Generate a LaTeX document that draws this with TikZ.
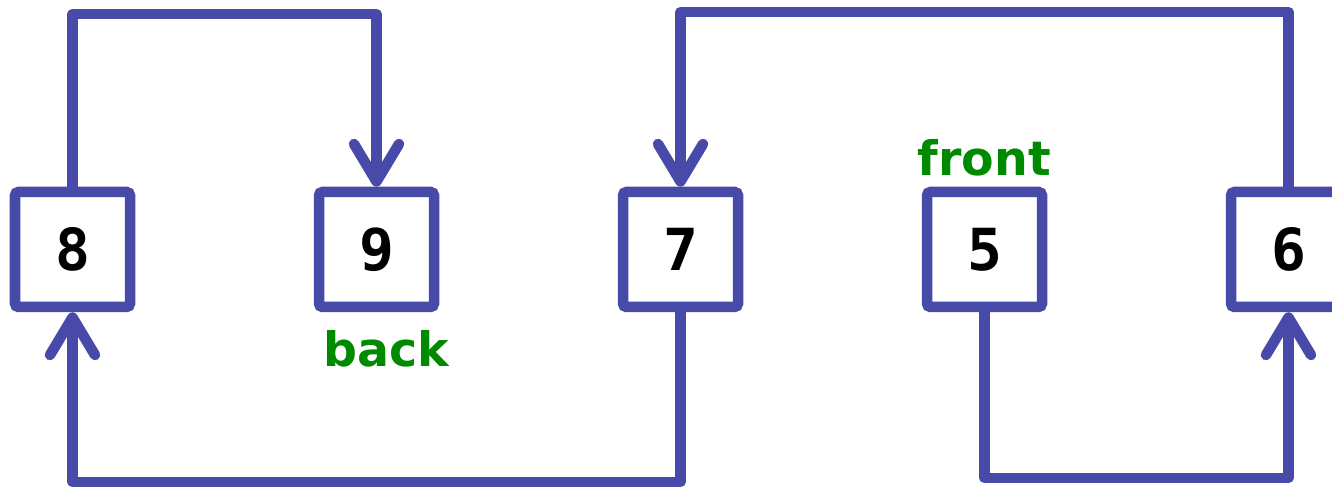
\documentclass[tikz,border=0pt]{standalone}
\usepackage{fontspec}
\usepackage{tikz}
\usetikzlibrary{arrows.meta,positioning,calc}
\newfontfamily\tagfont{DejaVu Sans}
\newfontfamily\cellfont{DejaVu Sans Mono}
\definecolor{link}  {HTML}{474AA8}
\definecolor{tagtxt}{HTML}{008A00}
\tikzset{
  cell/.style ={draw=link, fill=white, line width=0.21cm, rounded corners=2pt,
                minimum size=2.3cm, inner sep=0pt,
                font=\cellfont\bfseries\fontsize{33}{33}\selectfont},
  ptr/.style  ={-{Straight Barb[length=7.5mm,width=9mm,round]}, draw=link,
                line width=0.21cm, line join=round},
  tag/.style  ={font=\tagfont\bfseries\fontsize{27}{27}\selectfont,
                text=tagtxt, inner sep=0pt},
}

\begin{document}
\begin{tikzpicture}[x=1cm,y=1cm]
  \useasboundingbox (0,0) rectangle (26.64,9.76);

  \node[cell] (n8) at (1.45,4.77)  {8};
  \node[cell] (n9) at (7.53,4.77)  {9};
  \node[cell] (n7) at (13.61,4.77) {7};
  \node[cell] (n5) at (19.69,4.77) {5};
  \node[cell] (n6) at (25.77,4.77) {6};

  \node[tag, above=0.2cm of n5] (front) {front};
  \node[tag, below=0.36cm of n9, xshift=0.2cm] (back) {back};

  % rails for the next pointers
  \coordinate (railA) at (0,9.48);
  \coordinate (railB) at (0,0.12);
  \coordinate (railC) at (0,9.52);
  \coordinate (railD) at (0,0.20);

  \draw[ptr] (n8.north) -- (n8.north |- railA) -| (n9.north);
  \draw[ptr] (n7.south) -- (n7.south |- railB) -| (n8.south);
  \draw[ptr] (n6.north) -- (n6.north |- railC) -| (n7.north);
  \draw[ptr] (n5.south) -- (n5.south |- railD) -| (n6.south);
\end{tikzpicture}
\end{document}
